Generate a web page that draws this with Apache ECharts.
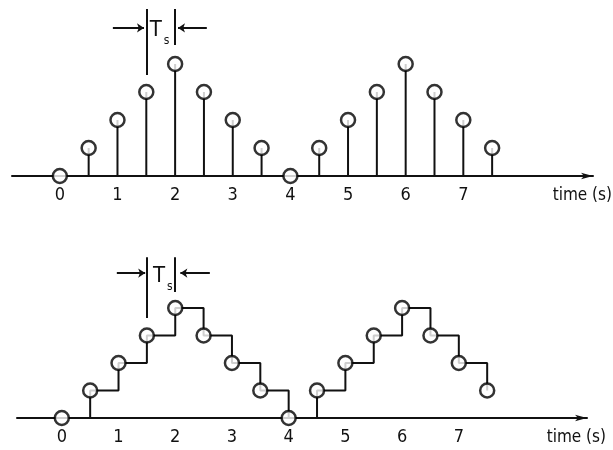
<!DOCTYPE html>
<html>
<head>
<meta charset="utf-8">
<script src="https://cdn.jsdelivr.net/npm/echarts@6/dist/echarts.min.js"></script>
<style>
  html, body { margin: 0; padding: 0; background: #fff; }
  #chart { width: 613px; height: 450px; }
</style>
</head>
<body>
<div id="chart"></div>
<script>
// sample instants (s) and sample values
var times = [0, 0.5, 1, 1.5, 2, 2.5, 3, 3.5, 4, 4.5, 5, 5.5, 6, 6.5, 7, 7.5];
var samples = [0, 1, 2, 3, 4, 3, 2, 1, 0, 1, 2, 3, 4, 3, 2, 1];
var tickLabels = [0, 1, 2, 3, 4, 5, 6, 7];
var axisTitle = 'time (s)';

var ink = '#111';
var font = 'DejaVu Sans Condensed';

var points = times.map(function (t, i) { return [t, samples[i]]; });

function xAxisFor(idx, min, max) {
    return {
        type: 'value',
        gridIndex: idx,
        min: min,
        max: max,
        splitLine: { show: false },
        axisTick: { show: false },
        axisLine: {
            show: true,
            symbol: ['none', 'arrow'],
            symbolSize: [5, 12],
            lineStyle: { color: ink, width: 2 }
        },
        axisLabel: {
            customValues: tickLabels,
            color: ink,
            fontFamily: font,
            fontSize: 18,
            margin: 10
        },
        name: axisTitle,
        nameLocation: 'end',
        nameGap: 19,
        nameTextStyle: {
            color: ink,
            fontFamily: font,
            fontSize: 17,
            align: 'right',
            verticalAlign: 'top',
            padding: [11, 0, 0, 0]
        }
    };
}

function yAxisFor(idx) {
    return { type: 'value', gridIndex: idx, min: 0, max: 6, show: false };
}

// Ts annotation (data coords) : marker lines + arrows
function tsMarks(top, y, leftTop, rightTop, arrowL, arrowR) {
    var arrowEnd = { symbol: 'arrow', symbolSize: 7 };
    return {
        silent: true,
        symbol: 'none',
        label: { show: false },
        lineStyle: { color: ink, width: 2, type: 'solid' },
        emphasis: { disabled: true },
        data: [
            [{ coord: [1.5, leftTop] }, { coord: [1.5, top] }],
            [{ coord: [2, rightTop] }, { coord: [2, top] }],
            [{ coord: [arrowL[0], y] }, Object.assign({ coord: [arrowL[1], y] }, arrowEnd)],
            [{ coord: [arrowR[0], y] }, Object.assign({ coord: [arrowR[1], y] }, arrowEnd)]
        ]
    };
}

function tsLabel(x, y) {
    return {
        silent: true,
        symbol: 'circle',
        symbolSize: 1,
        itemStyle: { color: 'rgba(0,0,0,0)' },
        label: {
            show: true,
            position: 'inside',
            formatter: '{t|T}{s|s}',
            rich: {
                t: { fontFamily: font, fontSize: 22, color: ink },
                s: { fontFamily: font, fontSize: 12, color: ink, padding: [20, 0, 0, 2] }
            }
        },
        data: [{ coord: [x, y] }]
    };
}

var circleStyle = { color: '#fff', borderColor: '#000', borderWidth: 2.5 };

var myChart = echarts.init(document.getElementById('chart'));
var option = {
    animation: false,
    grid: [
        { left: 12, width: 581, top: 8, height: 168 },
        { left: 17, width: 570, top: 253, height: 165 }
    ],
    xAxis: [xAxisFor(0, -0.83, 9.25), xAxisFor(1, -0.79, 9.26)],
    yAxis: [yAxisFor(0), yAxisFor(1)],
    series: [
        {
            name: 'stems',
            type: 'bar',
            xAxisIndex: 0,
            yAxisIndex: 0,
            barWidth: 2,
            itemStyle: { color: ink },
            data: points,
            z: 2,
            markLine: tsMarks(5.96, 5.29, 3.61, 4.68, [0.92, 1.46], [2.55, 2.05]),
            markPoint: tsLabel(1.73, 5.2)
        },
        {
            name: 'samples',
            type: 'scatter',
            xAxisIndex: 0,
            yAxisIndex: 0,
            symbol: 'circle',
            symbolSize: 14,
            itemStyle: circleStyle,
            data: points,
            z: 3
        },
        {
            name: 'hold',
            type: 'line',
            xAxisIndex: 1,
            yAxisIndex: 1,
            step: 'end',
            showSymbol: false,
            lineStyle: { color: ink, width: 2 },
            data: points,
            z: 2,
            markLine: tsMarks(5.85, 5.27, 3.64, 4.58, [0.97, 1.47], [2.61, 2.09]),
            markPoint: tsLabel(1.78, 5.15)
        },
        {
            name: 'held samples',
            type: 'scatter',
            xAxisIndex: 1,
            yAxisIndex: 1,
            symbol: 'circle',
            symbolSize: 14,
            itemStyle: circleStyle,
            data: points,
            z: 3
        }
    ]
};
myChart.setOption(option);
</script>
</body>
</html>
